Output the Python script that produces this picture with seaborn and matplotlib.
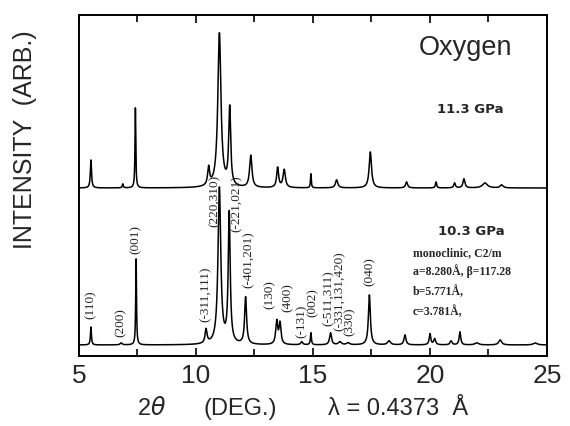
import numpy as np
import pandas as pd
import matplotlib.pyplot as plt
import seaborn as sns

# peaks: 2theta (deg), height, fwhm (deg)
# 11.3 GPa pattern (upper)
hi_pos = [5.51, 6.87, 7.41, 10.54, 11.00, 11.44, 12.34, 13.49, 13.77, 14.91, 16.01, 17.45,
          19.00, 20.26, 21.05, 21.45, 22.35, 23.06]
hi_hgt = [28, 4, 80, 18, 154, 78, 32, 20, 18, 14, 8, 36, 6, 6, 5, 9, 5, 3]
hi_fwhm = [0.06, 0.05, 0.04, 0.10, 0.16, 0.10, 0.12, 0.10, 0.12, 0.04, 0.12, 0.12,
           0.10, 0.06, 0.08, 0.10, 0.25, 0.15]
hi_base = 168

# 10.3 GPa pattern (lower)
lo_pos = [5.51, 6.80, 7.44, 10.43, 11.00, 11.42, 12.12, 13.45, 13.59, 14.52, 14.91, 15.75,
          16.15, 16.50, 17.41, 18.25, 18.93, 20.00, 20.20, 20.90, 21.28, 22.00, 23.00, 24.50]
lo_hgt = [18, 2, 86, 14, 156, 130, 47, 23, 21, 3, 12, 12, 3, 2, 50, 4, 10, 11, 6, 4, 13, 2, 5, 2]
lo_fwhm = [0.05, 0.10, 0.04, 0.10, 0.14, 0.10, 0.10, 0.10, 0.10, 0.10, 0.05, 0.10,
           0.15, 0.15, 0.10, 0.15, 0.10, 0.08, 0.10, 0.10, 0.08, 0.20, 0.15, 0.20]
lo_base = 11

# hkl labels of the lower pattern
hkl_text = ["(110)", "(200)", "(001)", "(-311,111)", "(220,310)", "(-221,021)", "(-401,201)",
            "(130)", "(400)", "(-131)", "(002)", "(-511,311)", "(-331,131,420)", "(330)", "(040)"]
hkl_x = [5.51, 6.79, 7.44, 10.43, 10.80, 11.75, 12.24, 13.14, 13.90, 14.50, 15.00, 15.66,
         16.13, 16.58, 17.44]
hkl_y = [52, 34, 117, 63, 156, 153, 97, 62, 59, 36, 54, 59, 66, 35, 85]

two_theta = np.linspace(5, 25, 8001)


def pattern(pos, hgt, fwhm, base):
    y = np.full_like(two_theta, base, dtype=float)
    for p, h, w in zip(pos, hgt, fwhm):
        y += h / (1 + ((two_theta - p) / (w / 2)) ** 2)
    return y


df = pd.concat([
    pd.DataFrame({"2theta": two_theta, "I": pattern(hi_pos, hi_hgt, hi_fwhm, hi_base), "P": "11.3 GPa"}),
    pd.DataFrame({"2theta": two_theta, "I": pattern(lo_pos, lo_hgt, lo_fwhm, lo_base), "P": "10.3 GPa"}),
])

sns.set_theme(style="ticks")
plt.rcParams["font.family"] = ["Liberation Sans", "DejaVu Sans"]

fig = plt.figure(figsize=(5.7, 4.27), dpi=100)
ax = fig.add_axes([0.1386, 0.164, 0.821, 0.7985])
sns.lineplot(data=df, x="2theta", y="I", units="P", estimator=None, sort=False,
             color="black", lw=1.1, ax=ax, legend=False)

ax.set_xlim(5, 25)
ax.set_ylim(0, 341)
ax.set_xticks([5, 10, 15, 20, 25])
ax.set_xticks([7.5, 12.5, 17.5, 22.5], minor=True)
ax.set_yticks([])
ax.tick_params(axis="x", which="both", direction="in", top=True, bottom=True,
               labelsize=19, width=1.2, pad=5, color="black")
ax.tick_params(axis="x", which="major", length=6)
ax.tick_params(axis="x", which="minor", length=5)
for s in ax.spines.values():
    s.set_linewidth(1.4)
    s.set_color("black")
ax.set_xlabel("")
ax.set_ylabel("")

serif = ["Liberation Serif", "DejaVu Serif"]
for t, x, y in zip(hkl_text, hkl_x, hkl_y):
    ax.text(x, y, t, rotation=90, ha="center", va="center", fontsize=9.5, family=serif,
            linespacing=1.0)

ax.text(21.5, 302, "Oxygen", ha="center", va="baseline", fontsize=19.5)
ax.text(21.7, 244, "11.3 GPa", ha="center", va="baseline", fontsize=9.5, fontweight="bold",
        family=["DejaVu Sans"])
ax.text(21.75, 122, "10.3 GPa", ha="center", va="baseline", fontsize=9.5, fontweight="bold",
        family=["DejaVu Sans"])
ax.text(19.27, 101, "monoclinic, C2/m", ha="left", va="baseline", fontsize=8.5,
        fontweight="bold", family=serif)
ax.text(19.27, 82, "a=8.280Å, β=117.28", ha="left", va="baseline", fontsize=8.5,
        fontweight="bold", family=serif)
ax.text(19.27, 62, "b=5.771Å,", ha="left", va="baseline", fontsize=8.5,
        fontweight="bold", family=serif)
ax.text(19.27, 42, "c=3.781Å,", ha="left", va="baseline", fontsize=8.5,
        fontweight="bold", family=serif)

fig.text(25 / 570, 1 - 140 / 427, "INTENSITY  (ARB.)", rotation=90, ha="center", va="center",
         fontsize=18)
fig.text(152 / 570, 1 - 409 / 427, r"2$\mathit{\theta}$", ha="center", va="center", fontsize=17)
fig.text(240 / 570, 1 - 409 / 427, "(DEG.)", ha="center", va="center", fontsize=17)
fig.text(398 / 570, 1 - 409 / 427, "λ = 0.4373  Å", ha="center", va="center", fontsize=17)

fig.savefig("out.png", dpi=100)
